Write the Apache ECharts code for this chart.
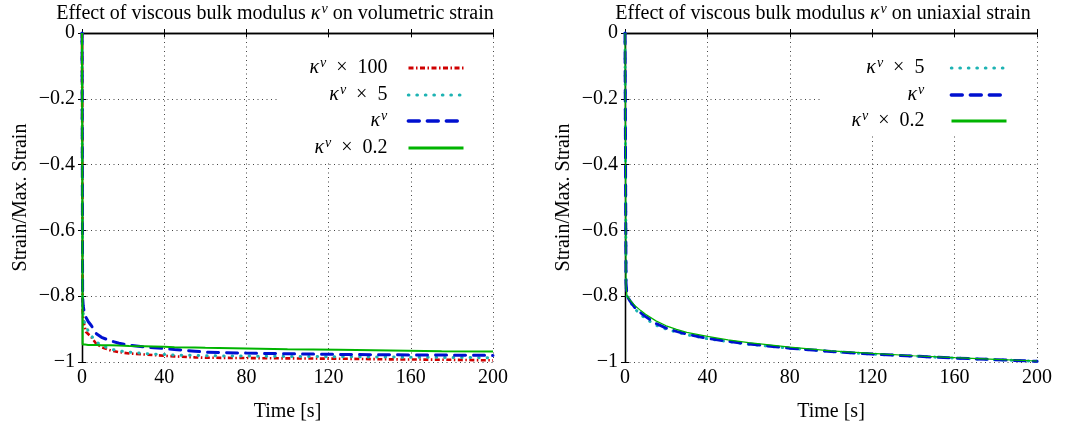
<!DOCTYPE html>
<html>
<head>
<meta charset="utf-8">
<script src="https://cdn.jsdelivr.net/npm/echarts@6/dist/echarts.min.js"></script>
<style>
  html, body { margin: 0; padding: 0; background: #fff; }
  #main { width: 1068px; height: 430px; }
</style>
</head>
<body>
<div id="main"></div>
<script>
// volumetric strain (left)
var timeVol = [0, 0.3, 0.6, 1, 1.5, 2, 3, 4.5, 7, 9.5, 14, 18, 23, 30, 35, 40, 45, 55, 60, 80, 100, 125, 150, 175, 200];
var volK100 = [0, -0.84, -0.87, -0.885, -0.898, -0.909, -0.915, -0.924, -0.945, -0.955, -0.965, -0.97, -0.974, -0.977, -0.979, -0.981, -0.983, -0.986, -0.987, -0.988, -0.989, -0.99, -0.992, -0.993, -0.995];
var volK5 = [0, -0.82, -0.86, -0.875, -0.885, -0.892, -0.905, -0.92, -0.939, -0.949, -0.961, -0.966, -0.97, -0.974, -0.976, -0.977, -0.979, -0.98, -0.981, -0.982, -0.983, -0.984, -0.985, -0.986, -0.987];
var volK = [0, -0.8, -0.83, -0.845, -0.855, -0.865, -0.877, -0.889, -0.914, -0.925, -0.936, -0.943, -0.949, -0.954, -0.957, -0.959, -0.962, -0.967, -0.97, -0.973, -0.975, -0.977, -0.978, -0.979, -0.98];
var volK02 = [0, -0.947, -0.947, -0.947, -0.947, -0.947, -0.948, -0.948, -0.948, -0.949, -0.949, -0.95, -0.951, -0.952, -0.953, -0.954, -0.955, -0.956, -0.957, -0.959, -0.961, -0.963, -0.965, -0.967, -0.968];

// uniaxial strain (right)
var timeUni = [0, 0.5, 1, 2.5, 5, 7.5, 10, 15, 20, 25, 30, 40, 50, 60, 80, 100, 120, 140, 160, 180, 200];
var uniK5 = [0, -0.77, -0.8, -0.818, -0.84, -0.855, -0.868, -0.888, -0.9, -0.909, -0.917, -0.929, -0.938, -0.946, -0.958, -0.968, -0.976, -0.982, -0.988, -0.993, -0.998];
var uniK = [0, -0.76, -0.8, -0.815, -0.836, -0.85, -0.862, -0.883, -0.897, -0.907, -0.915, -0.928, -0.937, -0.945, -0.958, -0.968, -0.976, -0.982, -0.988, -0.993, -0.998];
var uniK02 = [0, -0.77, -0.8, -0.812, -0.83, -0.843, -0.855, -0.875, -0.89, -0.901, -0.91, -0.922, -0.933, -0.941, -0.955, -0.966, -0.974, -0.981, -0.987, -0.992, -0.997];

var FONT = '"Liberation Serif", "DejaVu Serif", serif';
var FS = 20;

function pairs(t, v) {
    var out = [];
    for (var i = 0; i < t.length; i++) out.push([t[i], v[i]]);
    return out;
}

var rich = {
    k: { fontFamily: FONT, fontStyle: 'italic', fontSize: FS, color: '#000' },
    s: { fontFamily: FONT, fontStyle: 'italic', fontSize: 14, color: '#000', padding: [0, 0, 10, 1] },
    n: { fontFamily: FONT, fontSize: FS, color: '#000' }
};

// legend labels (key -> rich text)
var names = {
    'k100': '{k|κ}{s|v}{n|\u2002×\u2002100}',
    'k5': '{k|κ}{s|v}{n|\u2002×\u20025}',
    'k': '{k|κ}{s|v}',
    'k02': '{k|κ}{s|v}{n|\u2002×\u20020.2}',
    'k5 ': '{k|κ}{s|v}{n|\u2002×\u20025}',
    'k ': '{k|κ}{s|v}',
    'k02 ': '{k|κ}{s|v}{n|\u2002×\u20020.2}'
};

var red = '#d00000', cyan = '#1db3b3', blue = '#0010d0', green = '#00b400';

function mainX(g) {
    return {
        type: 'value', gridIndex: g, min: 0, max: 200, interval: 40,
        name: 'Time [s]', nameLocation: 'middle', nameGap: 40,
        nameTextStyle: { fontFamily: FONT, fontSize: FS, color: '#000' },
        axisLine: { lineStyle: { color: '#000', width: 1.3 } },
        axisTick: { inside: true, length: 4, lineStyle: { color: '#000' } },
        axisLabel: { fontFamily: FONT, fontSize: FS, color: '#000', margin: 6 },
        splitLine: { show: true, lineStyle: { color: '#444', type: [1, 3.5] } }
    };
}
function topX(g) {
    return {
        type: 'value', gridIndex: g, position: 'top', min: 0, max: 200, interval: 40,
        axisLine: { lineStyle: { color: '#000', width: 1.3 } },
        axisTick: { inside: true, length: 4, lineStyle: { color: '#000' } },
        axisLabel: { show: false }, splitLine: { show: false }
    };
}
function mainY(g) {
    return {
        type: 'value', gridIndex: g, min: -1, max: 0, interval: 0.2,
        name: 'Strain/Max. Strain', nameLocation: 'middle', nameGap: 51,
        nameTextStyle: { fontFamily: FONT, fontSize: FS, color: '#000' },
        axisLine: { lineStyle: { color: '#000', width: 1.3 } },
        axisTick: { inside: true, length: 4, lineStyle: { color: '#000' } },
        axisLabel: {
            fontFamily: FONT, fontSize: FS, color: '#000', margin: 7,
            formatter: function (v) { return v === 0 ? '0' : '\u2212' + String(Math.abs(+v.toFixed(1))); }
        },
        splitLine: { show: true, lineStyle: { color: '#444', type: [1, 3.5] } }
    };
}
function rightY(g) {
    return {
        type: 'value', gridIndex: g, position: 'right', min: -1, max: 0, interval: 0.2,
        axisLine: { show: true, lineStyle: { color: '#000', width: 1.3 } },
        axisTick: { inside: true, length: 4, lineStyle: { color: '#000' } },
        axisLabel: { show: false }, splitLine: { show: false }
    };
}

function line(name, g, t, v, color, width, type, cap) {
    return {
        name: name, type: 'line', xAxisIndex: g * 2, yAxisIndex: g * 2,
        data: pairs(t, v), showSymbol: false, symbol: 'none',
        animation: false,
        lineStyle: { color: color, width: width, type: type || 'solid', cap: cap || 'butt' },
        itemStyle: { color: color }, z: 3
    };
}

function legendItem(name, right, top, gap, width) {
    return {
        data: [name], right: right, top: top, orient: 'vertical', align: 'right',
        padding: 0, itemWidth: 55, itemHeight: 12, selectedMode: false,
        itemStyle: { opacity: 0 },
        lineStyle: { width: width },
        textStyle: { rich: rich, padding: [0, gap, 0, 0] },
        formatter: function (n) { return names[n]; }
    };
}

var chart = echarts.init(document.getElementById('main'));
chart.setOption({
    backgroundColor: '#fff',
    animation: false,
    title: [
        { text: 'Effect of viscous bulk modulus {k|κ}{s|v} on volumetric strain', left: 270, top: 2, padding: [0, 5], textAlign: 'center',
          textStyle: { fontFamily: FONT, fontSize: FS, fontWeight: 'normal', color: '#000', rich: rich } },
        { text: 'Effect of viscous bulk modulus {k|κ}{s|v} on uniaxial strain', left: 818, top: 2, padding: [0, 5], textAlign: 'center',
          textStyle: { fontFamily: FONT, fontSize: FS, fontWeight: 'normal', color: '#000', rich: rich } }
    ],
    grid: [
        { left: 82, top: 33, width: 411, height: 329 },
        { left: 625, top: 33, width: 412, height: 329 }
    ],
    xAxis: [mainX(0), topX(0), mainX(1), topX(1)],
    yAxis: [mainY(0), rightY(0), mainY(1), rightY(1)],
    graphic: [
        { type: 'rect', left: 280, top: 38, shape: { width: 209, height: 124 }, style: { fill: '#fff' }, z: 1 },
        { type: 'rect', left: 823, top: 38, shape: { width: 210, height: 96 }, style: { fill: '#fff' }, z: 1 }
    ],
    legend: [
        legendItem('k100', 603, 56, 16, 3),
        legendItem('k5', 603, 83, 16, 3.2),
        legendItem('k', 603, 109, 16, 3.4),
        legendItem('k02', 603, 136, 16, 3),
        legendItem('k5 ', 60, 56, 22, 3.2),
        legendItem('k ', 60, 83, 22, 3.4),
        legendItem('k02 ', 60, 109, 22, 3)
    ],
    series: [
        line('k100', 0, timeVol, volK100, red, 2.6, [5, 2.5, 1.5, 2.5]),
        line('k5', 0, timeVol, volK5, cyan, 3, [0.5, 8], 'round'),
        line('k', 0, timeVol, volK, blue, 3, [11, 8], 'round'),
        line('k02', 0, timeVol, volK02, green, 2),
        line('k5 ', 1, timeUni, uniK5, cyan, 3, [0.5, 8], 'round'),
        line('k ', 1, timeUni, uniK, blue, 3, [11, 8], 'round'),
        line('k02 ', 1, timeUni, uniK02, green, 1.2)
    ]
});
</script>
</body>
</html>
